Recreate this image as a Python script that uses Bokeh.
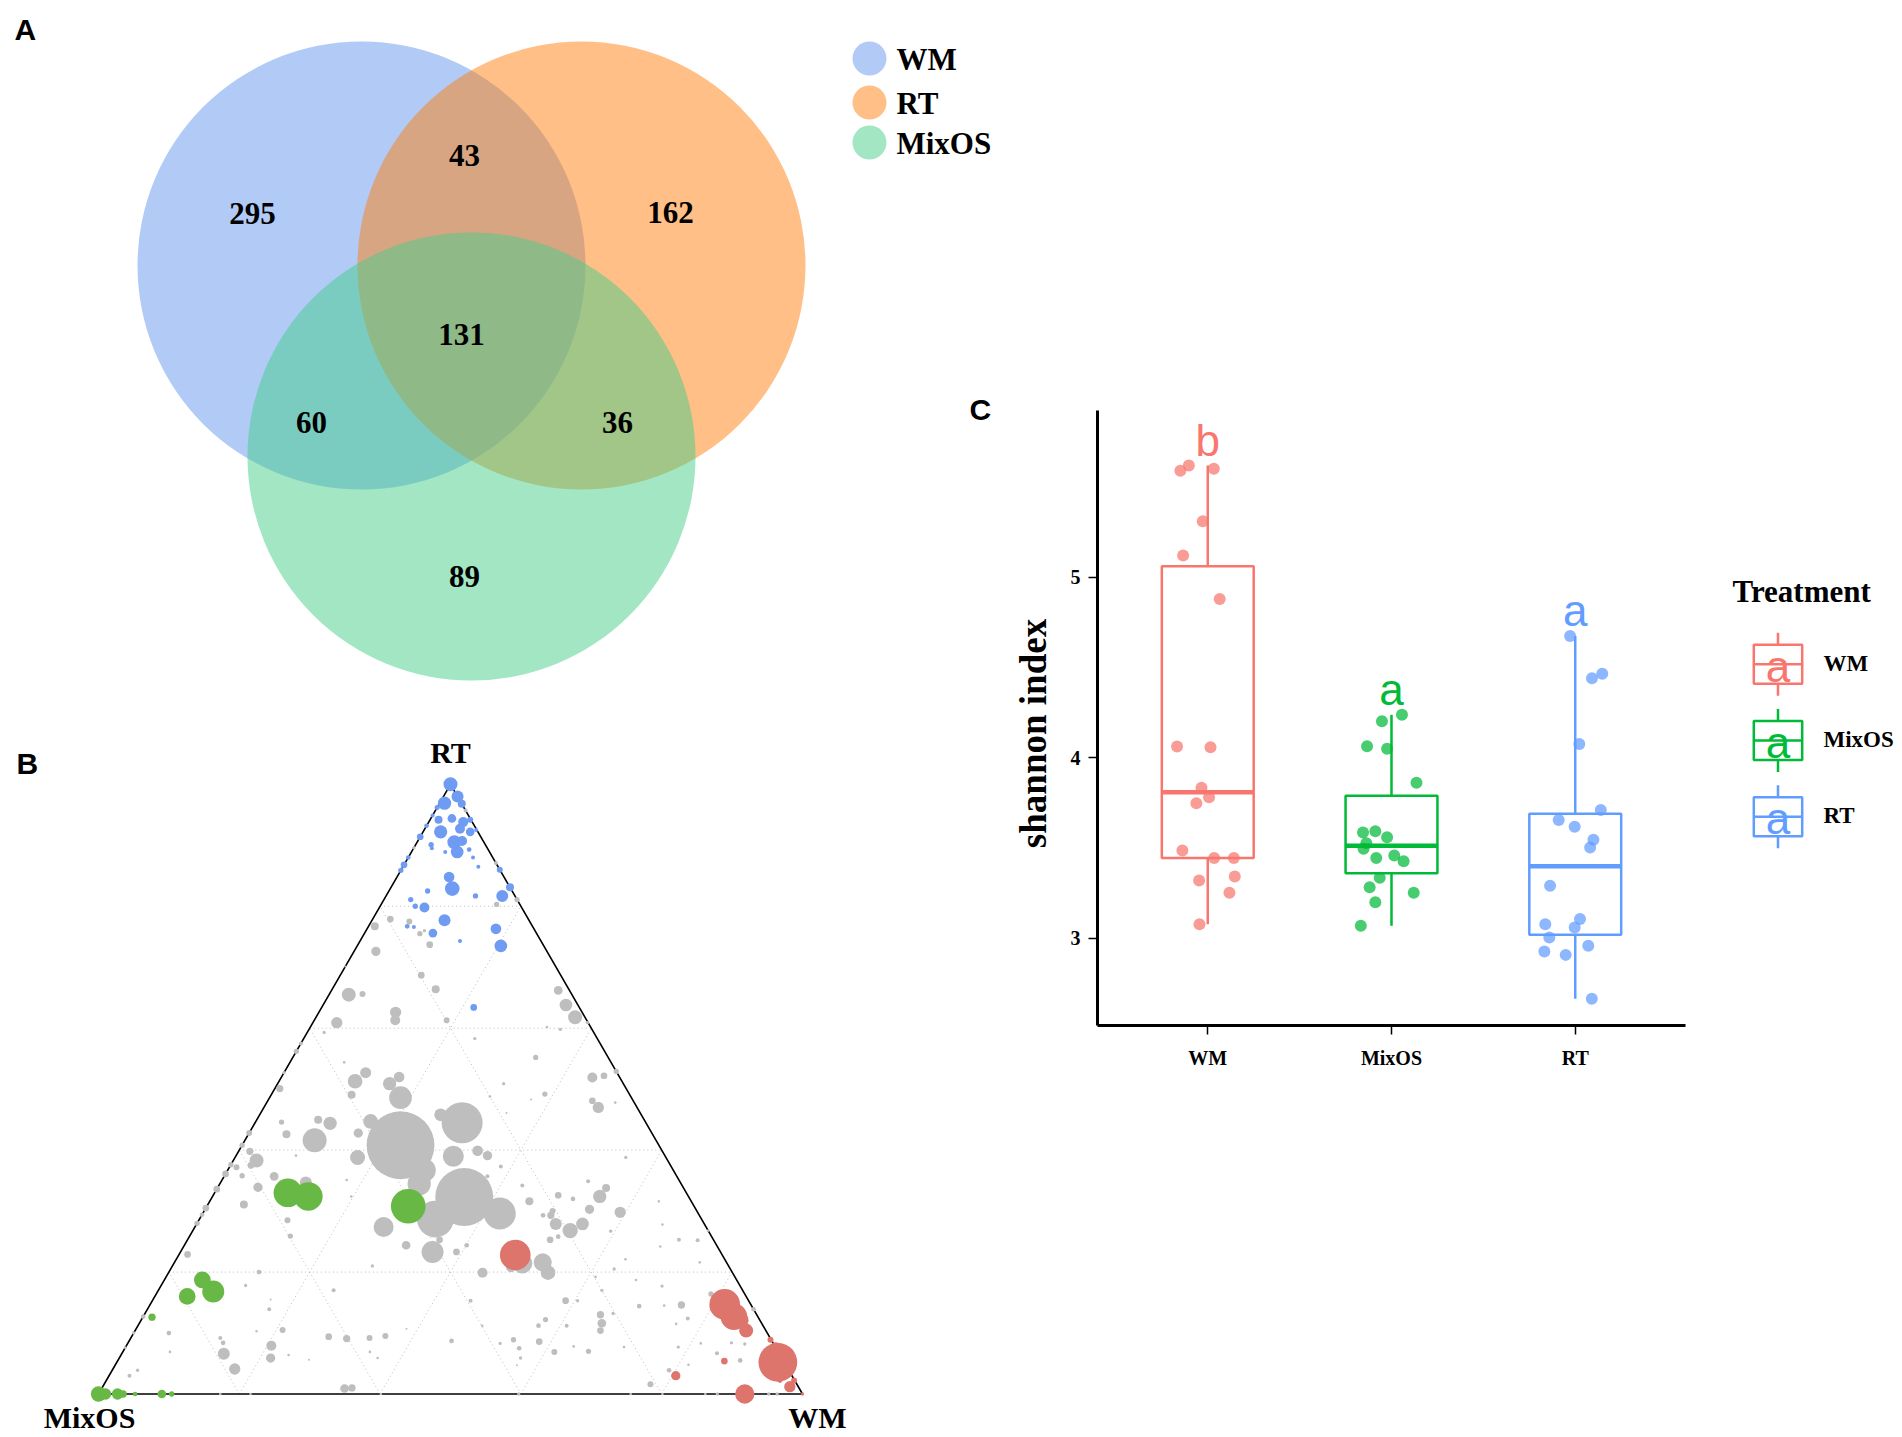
import math
from bokeh.plotting import figure
from bokeh.models import Range1d, FixedTicker, Spacer
from bokeh.layouts import row, column
from bokeh.core.properties import value
from bokeh.embed import file_html
from bokeh.resources import INLINE

# ------------------------------------------------------------------ data
# Panel A : Venn diagram (number of shared / unique taxa)
VENN_SETS = ["WM", "RT", "MixOS"]
VENN_REGIONS = ["WM only", "WM&RT", "RT only", "all", "WM&MixOS", "RT&MixOS", "MixOS only"]
VENN_COUNTS = [295, 43, 162, 131, 60, 36, 89]

# Panel B : ternary plot, composition in % (RT, WM; MixOS = remainder), abundance
BLUE_RT = [100, 98.0, 96.9, 96.8, 96.2, 94.2, 94.4, 93.8, 94.2, 94.9, 92.2, 92.7, 92.2, 93.2, 90.5,
           90.7, 88.9, 91.4, 90.1, 89.5, 88.9, 89.3, 92.5, 88.0, 88.0, 86.8, 85.9, 86.5, 86.0, 84.8,
           82.9, 83.1, 81.7, 82.5, 81.7, 81.1, 80.0, 79.8, 77.7, 76.7, 76.6, 75.6, 76.3, 73.5, 74.3, 63.4]
BLUE_WM = [0, 2.0, 0.7, 3.2, 0.0, 1.2, 3.0, 4.9, 5.7, 0.0, 2.5, 5.0, 6.7, 0.0, 5.3,
           6.3, 6.5, 0.0, 2.2, 2.6, 4.8, 8.0, 7.4, 9.2, 0.0, 0.0, 0.0, 10.7, 14.0, 7.4,
           8.8, 16.9, 16.5, 5.5, 12.7, 3.8, 5.0, 6.4, 10.3, 5.5, 6.5, 9.7, 18.3, 20.4, 14.2, 21.6]
BLUE_AB = [1.96, 1.44, 1.77, 0.64, 0.25, 0.64, 0.76, 1.0, 0.36, 0.16, 1.77, 1.0, 0.76, 0.22, 1.96,
           1.0, 1.61, 0.45, 0.28, 0.16, 0.16, 0.22, 0.16, 0.16, 0.22, 0.45, 0.28, 0.16, 0.36, 1.14,
           2.16, 0.64, 1.44, 0.28, 0.28, 0.28, 0.28, 1.0, 1.44, 0.22, 0.16, 0.76, 1.14, 1.61, 0.16, 0.45]

GREEN_RT = [30.8, 33.0, 32.4, 18.7, 16.8, 16.0, 12.6, 0, 0, 0, 0, 0, 0, 0]
GREEN_WM = [28.6, 10.4, 13.6, 5.4, 7.9, 4.6, 1.3, 0.0, 1.0, 2.7, 3.5, 5.2, 9.0, 10.4]
GREEN_AB = [12.0, 8.2, 8.2, 2.8, 4.84, 2.8, 0.53, 2.34, 1.28, 1.28, 0.53, 0.22, 0.76, 0.28]

RED_RT = [22.8, 14.7, 12.7, 14.2, 12.1, 10.4, 8.9, 5.2, 7.4, 1.2, 2.2, 2.2, 0, 0, 5.4, 3.0]
RED_WM = [47.8, 81.6, 83.9, 80.7, 85.1, 86.8, 91.0, 93.9, 92.5, 97.6, 97.7, 95.7, 100, 91.8, 86.2, 80.5]
RED_AB = [9.4, 9.4, 7.1, 1.77, 2.8, 1.96, 0.36, 15.0, 1.77, 1.28, 0.36, 0.22, 0.11, 3.72, 0.45, 0.86]

GREY_RT = [95.7, 89.6, 87.1, 81.1, 80.3, 76.7, 77.9, 77.5, 75.5, 76.0, 73.7, 72.6, 68.7, 66.4, 65.5,
           65.6, 62.6, 61.3, 60.9, 61.3, 66.2, 63.8, 61.8, 60.9, 60.2, 59.8, 59.3, 58.3, 55.2, 54.4,
           52.7, 57.5, 70.1, 56.2, 52.7, 50.1, 51.3, 49.1, 50.9, 52.0, 48.6, 44.7, 42.8, 44.4, 45.0,
           41.6, 44.6, 42.6, 42.8, 40.8, 39.8, 38.3, 37.5, 37.6, 37.2, 35.8, 36.1, 35.7, 33.9, 33.6,
           31.1, 30.5, 29.4, 28.0, 28.5, 25.9, 22.9, 39.1, 35.1, 32.4, 21.0, 20.0, 17.8, 17.0, 34.7,
           38.8, 27.4, 24.4, 23.3, 23.3, 45.8, 40.8, 32.3, 44.5, 29.6, 28.7, 36.7, 34.5, 39.0, 39.9,
           39.1, 25.3, 24.4, 35.7, 37.3, 34.2, 31.6, 32.6, 32.0, 34.9, 32.4, 33.8, 30.3, 27.9, 26.8,
           27.9, 29.3, 29.3, 30.0, 25.3, 25.8, 20.8, 21.4, 21.6, 19.9, 19.9, 15.3, 15.3, 15.3, 17.0,
           13.0, 11.6, 10.4, 12.2, 11.2, 11.2, 8.9, 8.6, 7.5, 5.9, 8.3, 11.2, 6.9, 7.8, 7.0,
           8.7, 9.1, 9.2, 9.5, 10.7, 6.9, 5.9, 0.9, 1.0, 4.7, 15.5, 13.9, 10.5, 10.3, 7.9,
           5.9, 6.4, 5.6, 9.4, 9.2, 8.4, 6.6, 4.1, 10.0, 6.9, 3.9, 3.0, 12.7, 10.0, 7.6,
           51.9, 52.2, 52.9, 50.9, 49.2, 48.3, 48.8, 46.1, 48.1, 47.0, 47.8, 38.8, 29.8, 31.6, 27.8,
           25.3, 25.2, 24.2, 26.7, 22.1, 20.5, 21.6, 26.8, 17.7, 18.7, 19.2, 16.4, 13.9, 5.5, 8.4,
           8.2, 6.7, 8.3, 14.6, 12.4, 14.5, 14.4, 11.5, 7.7, 4.8, 3.9, 1.6, 7.7, 13.2,
           0, 0, 0, 0, 0, 0, 0, 0, 0, 0]
GREY_WM = [4.3, 0.0, 12.9, 18.9, 16.4, 0.9, 2.5, 5.4, 7.9, 8.3, 10.2, 3.1, 11.5, 14.7, 2.8,
           4.7, 10.9, 11.5, 3.4, 18.8, 32.2, 34.5, 36.8, 39.0, 33.6, 35.7, 2.4, 24.3, 34.5, 7.7,
           11.6, 0.0, 0.0, 0.0, 0.0, 0.7, 10.8, 11.4, 15.9, 16.7, 18.6, 16.3, 15.5, 10.7, 8.7,
           9.9, 3.7, 5.4, 0.0, 0.0, 1.6, 3.3, 2.9, 0.0, 1.0, 2.5, 0.0, 7.1, 5.7, 0.0,
           5.1, 0.0, 0.0, 0.0, 12.6, 14.3, 1.2, 8.5, 17.7, 19.7, 28.4, 12.8, 12.0, 24.9, 12.1,
           17.4, 26.8, 31.5, 35.8, 39.2, 25.7, 22.5, 35.8, 29.4, 42.2, 33.5, 27.9, 28.3, 30.9, 33.9,
           35.7, 35.8, 40.1, 37.4, 38.5, 43.1, 45.4, 49.0, 51.4, 52.1, 55.0, 55.2, 54.6, 54.8, 53.6,
           51.0, 49.6, 48.5, 49.5, 51.5, 52.4, 48.2, 49.5, 52.3, 53.9, 44.6, 45.2, 58.7, 60.4, 63.0,
           64.8, 65.7, 66.1, 57.4, 56.9, 60.9, 54.5, 58.3, 56.0, 57.0, 52.9, 48.9, 61.3, 63.6, 66.1,
           45.8, 30.7, 33.9, 36.0, 38.4, 35.1, 36.7, 34.5, 35.5, 57.1, 16.7, 17.3, 20.9, 17.3, 20.6,
           21.5, 23.8, 27.1, 28.0, 12.7, 13.5, 14.5, 17.3, 5.0, 6.7, 3.6, 2.9, 0.0, 0.0, 0.0,
           44.2, 45.7, 47.1, 32.1, 38.8, 37.3, 31.2, 34.9, 46.1, 47.5, 49.5, 55.5, 59.2, 63.8, 66.2,
           69.8, 72.5, 67.7, 59.4, 63.8, 63.0, 74.6, 73.2, 71.2, 67.0, 61.0, 78.8, 86.1, 88.4, 85.7,
           87.7, 84.5, 81.4, 75.5, 77.5, 73.1, 69.6, 76.3, 78.5, 81.4, 79.1, 77.6, 70.8, 66.5,
           95.2, 96.4, 87.9, 86.2, 75.6, 80.1, 17.3, 40.1, 59.7, 21.6]
GREY_AB = [0.16, 0.11, 0.16, 0.28, 0.28, 0.64, 0.45, 0.36, 0.28, 0.11, 0.45, 0.86, 0.45, 0.64, 1.96,
           0.36, 1.28, 1.0, 1.28, 0.36, 0.76, 1.61, 1.96, 0.11, 0.07, 0.11, 0.11, 0.11, 0.28, 0.07,
           1.21, 0.16, 0.04, 0.28, 0.11, 0.53, 2.16, 0.64, 1.77, 1.14, 5.15, 2.16, 0.86, 1.77, 0.64,
           5.76, 0.28, 0.64, 0.36, 0.28, 0.53, 1.96, 0.45, 0.28, 0.36, 0.28, 0.45, 0.76, 0.86, 0.45,
           0.64, 0.45, 0.22, 0.28, 0.36, 0.28, 0.45, 0.07, 0.07, 0.07, 0.11, 0.22, 0.11, 0.16, 1.44,
           2.25, 4.0, 0.76, 4.84, 0.45, 1.61, 46.0, 33.6, 16.8, 10.2, 13.5, 5.43, 5.43, 4.41, 1.14,
           0.86, 0.45, 0.22, 0.16, 0.16, 0.16, 0.64, 0.45, 0.22, 0.16, 1.77, 0.64, 0.86, 1.61, 2.34,
           1.44, 0.53, 0.22, 0.36, 0.45, 0.22, 1.0, 4.0, 3.24, 2.16, 1.0, 0.16, 0.45, 0.11, 0.11,
           0.53, 0.76, 0.45, 0.28, 0.22, 0.16, 0.28, 0.45, 0.22, 0.11, 0.11, 0.07, 0.36, 0.07, 0.28,
           0.22, 0.53, 0.36, 0.36, 0.04, 0.07, 0.07, 0.76, 0.53, 0.04, 0.04, 0.16, 0.36, 0.07, 1.0,
           0.86, 0.07, 0.04, 0.45, 0.16, 0.22, 1.44, 1.28, 0.22, 0.07, 0.11, 0.16, 0.22, 0.11, 0.07,
           1.0, 0.45, 0.28, 0.11, 0.28, 0.04, 0.07, 0.04, 0.45, 1.28, 0.07, 0.11, 1.28, 0.07, 0.07,
           0.16, 0.16, 0.07, 0.11, 0.07, 0.11, 0.07, 0.07, 0.11, 0.07, 0.07, 0.28, 0.22, 0.22, 0.11,
           0.11, 0.16, 0.07, 0.53, 0.16, 0.07, 0.22, 0.07, 0.11, 0.07, 0.22, 0.36, 0.07, 0.11,
           0.11, 0.11, 0.11, 0.07, 0.07, 0.07, 0.07, 0.07, 0.11, 0.07]

# Panel C : shannon index per treatment
TREATMENTS = ["WM", "MixOS", "RT"]
WM_SHANNON = [5.59, 5.619, 5.60, 5.31, 5.12, 4.88, 4.063, 4.059, 3.834, 3.782, 3.749, 3.487,
              3.446, 3.446, 3.321, 3.343, 3.253, 3.078]
WM_JITTER = [-0.149, -0.103, 0.033, -0.027, -0.134, 0.065, -0.167, 0.015, -0.034, 0.007, -0.062,
             -0.138, 0.035, 0.142, -0.047, 0.147, 0.118, -0.045]
MIX_SHANNON = [4.238, 4.203, 4.064, 4.05, 3.862, 3.586, 3.594, 3.56, 3.527, 3.496, 3.446, 3.459,
               3.427, 3.336, 3.284, 3.253, 3.2, 3.07]
MIX_JITTER = [0.057, -0.052, -0.133, -0.024, 0.136, -0.155, -0.088, -0.024, -0.137, -0.152,
              -0.083, 0.015, 0.066, -0.064, -0.119, 0.121, -0.088, -0.167]
RT_SHANNON = [4.674, 4.441, 4.465, 4.077, 3.711, 3.656, 3.619, 3.547, 3.504, 3.292, 3.107, 3.079,
              3.06, 3.005, 2.928, 2.909, 2.959, 2.666]
RT_JITTER = [-0.028, 0.091, 0.147, 0.022, 0.139, -0.09, -0.003, 0.099, 0.081, -0.137, 0.026,
             -0.163, -0.003, -0.141, -0.168, -0.052, 0.071, 0.09]
BOX_LOWER = [3.078, 3.07, 2.666]
BOX_Q1 = [3.446, 3.361, 3.02]
BOX_MEDIAN = [3.81, 3.513, 3.40]
BOX_Q3 = [5.061, 3.79, 3.69]
BOX_UPPER = [5.619, 4.238, 4.674]
SIG_LETTERS = ["b", "a", "a"]
Y_TITLE = "shannon index"

# ------------------------------------------------------------------ styles
SERIF = value("Liberation Serif")
SANS = value("Liberation Sans")
VENN_COLORS = {"WM": "#6495ED", "RT": "#FF7F0E", "MixOS": "#46CD8A"}
TERN_COLORS = {"grey": "#BEBEBE", "blue": "#6F9BF2", "green": "#68B846", "red": "#DD756C"}
BOX_COLORS = ["#F8766D", "#00BA38", "#619CFF"]


def blank(width, height, xr, yr, **kw):
    p = figure(width=width, height=height, x_range=xr, y_range=yr, output_backend="svg",
               toolbar_location=None, x_axis_location=None, y_axis_location=None, **kw)
    p.grid.visible = False
    p.outline_line_color = None
    p.background_fill_color = "white"
    p.border_fill_color = "white"
    return p


# ------------------------------------------------------------------ panels A + B (page pixel space)
PAB_W, PAB_H = 1000, 1436
pab = blank(PAB_W, PAB_H, Range1d(0, PAB_W), Range1d(PAB_H, 0), min_border=0)

# --- Venn
venn_cx = {"WM": 361, "RT": 581, "MixOS": 471}
venn_cy = {"WM": 265, "RT": 265, "MixOS": 456}
for s in VENN_SETS:
    pab.circle(x=[venn_cx[s]], y=[venn_cy[s]], radius=224, fill_color=VENN_COLORS[s],
               fill_alpha=0.5, line_color=None)
region_x = [252, 464, 670, 461, 311, 617, 464]
region_y = [213, 155, 212, 334, 422, 422, 576]
pab.text(x=region_x, y=region_y, text=[str(c) for c in VENN_COUNTS], text_font=SERIF,
         text_font_style="bold", text_font_size="31px", text_align="center",
         text_baseline="middle", text_color="black")
leg_y = {"WM": 58, "RT": 102, "MixOS": 142}
for s in VENN_SETS:
    pab.circle(x=[869], y=[leg_y[s]], radius=17, fill_color=VENN_COLORS[s], fill_alpha=0.5,
               line_color=None)
    pab.text(x=[896], y=[leg_y[s] + 1], text=[s], text_font=SERIF, text_font_style="bold",
             text_font_size="31px", text_align="left", text_baseline="middle", text_color="black")

# --- panel letters
pab.text(x=[14, 16, 969], y=[29, 762.5, 408.5], text=["A", "B", "C"], text_font=SANS,
         text_font_style="bold", text_font_size="30px", text_align="left",
         text_baseline="middle", text_color="black")

# --- ternary, drawn on extra ranges (x: 0..1 across base, y: 0..sqrt(3)/2)
H = math.sqrt(3) / 2
T_PX = 704.0           # pixels per unit of the ternary base
T_X0, T_Y0 = 98.0, 1393.5  # page position of the MixOS corner
pab.extra_x_ranges = {"tx": Range1d(-T_X0 / T_PX, (PAB_W - T_X0) / T_PX)}
pab.extra_y_ranges = {"ty": Range1d(-(PAB_H - T_Y0) / T_PX, T_Y0 / T_PX)}


def tern(rt, wm):
    return (wm + rt / 2.0) / 100.0, rt / 100.0 * H


gx, gy = [], []
for f in (20, 40, 60, 80):
    for a, b in (((f, 0), (f, 100 - f)), ((0, f), (100 - f, f)), ((0, 100 - f), (100 - f, 0))):
        x0, y0 = tern(*a)
        x1, y1 = tern(*b)
        gx.append([x0, x1])
        gy.append([y0, y1])
pab.multi_line(xs=gx, ys=gy, line_color="#BDBDBD", line_width=1, line_dash="1 3",
               x_range_name="tx", y_range_name="ty")
tri = [tern(0, 0), tern(0, 100), tern(100, 0), tern(0, 0)]
pab.line(x=[t[0] for t in tri], y=[t[1] for t in tri], line_color="black", line_width=1.6,
         x_range_name="tx", y_range_name="ty")


def draw_group(rts, wms, abs_, color):
    order = sorted(range(len(abs_)), key=lambda i: -abs_[i])
    xs, ys, ss = [], [], []
    for i in order:
        x, y = tern(rts[i], wms[i])
        xs.append(x)
        ys.append(y)
        ss.append(10.0 * math.sqrt(abs_[i]))
    pab.scatter(x=xs, y=ys, size=ss, fill_color=color, line_color=None,
                x_range_name="tx", y_range_name="ty")


draw_group(GREY_RT, GREY_WM, GREY_AB, TERN_COLORS["grey"])
draw_group(BLUE_RT, BLUE_WM, BLUE_AB, TERN_COLORS["blue"])
draw_group(GREEN_RT, GREEN_WM, GREEN_AB, TERN_COLORS["green"])
draw_group(RED_RT, RED_WM, RED_AB, TERN_COLORS["red"])

pab.text(x=[450, 89, 817], y=[752, 1417, 1417], text=["RT", "MixOS", "WM"], text_font=SERIF,
         text_font_style="bold", text_font_size="30px", text_align="center",
         text_baseline="middle", text_color="black")

# ------------------------------------------------------------------ panel C
C_BORDERS = dict(min_border_top=10, min_border_bottom=65)

# y-axis title strip (page pixel space), frames aligned with panel C
pyt = blank(53, 690, Range1d(1000, 1053), Range1d(1025, 410), min_border_left=0,
            min_border_right=0, **C_BORDERS)
pyt.text(x=[1033], y=[733], text=[Y_TITLE], angle=math.pi / 2, text_font=SERIF,
         text_font_style="bold", text_font_size="37px", text_align="center",
         text_baseline="middle", text_color="black")

pc = figure(width=647, height=690, x_range=Range1d(0.4, 3.6), y_range=Range1d(2.518, 5.923),
            output_backend="svg", toolbar_location=None, min_border_left=44,
            min_border_right=15, **C_BORDERS)
pc.grid.visible = False
pc.outline_line_color = None
for ax in (pc.xaxis, pc.yaxis):
    ax.axis_line_width = 3
    ax.axis_line_color = "black"
    ax.major_tick_line_width = 1.5
    ax.major_tick_line_color = "black"
    ax.major_tick_out = 9
    ax.major_tick_in = 0
    ax.minor_tick_out = 0
    ax.minor_tick_in = 0
    ax.major_label_text_font = "Liberation Serif"
    ax.major_label_text_font_style = "bold"
    ax.major_label_text_font_size = "20px"
    ax.major_label_text_color = "black"
pc.xaxis.ticker = FixedTicker(ticks=[1, 2, 3])
pc.xaxis.major_label_overrides = {1: "WM", 2: "MixOS", 3: "RT"}
pc.xaxis.major_label_standoff = 12
pc.yaxis.ticker = FixedTicker(ticks=[3, 4, 5])
pc.yaxis.major_label_standoff = 8

cats = [1, 2, 3]
pc.segment(x0=cats, y0=BOX_Q3, x1=cats, y1=BOX_UPPER, line_color=BOX_COLORS, line_width=2.5)
pc.segment(x0=cats, y0=BOX_LOWER, x1=cats, y1=BOX_Q1, line_color=BOX_COLORS, line_width=2.5)
pc.vbar(x=cats, width=0.5, bottom=BOX_Q1, top=BOX_Q3, fill_color="white",
        line_color=BOX_COLORS, line_width=2.5)
pc.segment(x0=[c - 0.25 for c in cats], y0=BOX_MEDIAN, x1=[c + 0.25 for c in cats],
           y1=BOX_MEDIAN, line_color=BOX_COLORS, line_width=4.5)
for c, vals, jit, col in zip(cats, (WM_SHANNON, MIX_SHANNON, RT_SHANNON),
                             (WM_JITTER, MIX_JITTER, RT_JITTER), BOX_COLORS):
    pc.scatter(x=[c + j for j in jit], y=vals, size=12, fill_color=col, fill_alpha=0.72,
               line_color=None)
LETTER_GAP = 0.139   # letter centre above the upper whisker (data units)
pc.text(x=cats, y=[u + LETTER_GAP for u in BOX_UPPER], text=SIG_LETTERS,
        text_color=BOX_COLORS, text_font=SANS, text_font_size="44px", text_align="center",
        text_baseline="middle")

# ------------------------------------------------------------------ legend for panel C
pl = blank(200, 690, Range1d(1700, 1900), Range1d(1025, 410), min_border_left=0,
           min_border_right=0, **C_BORDERS)
pl.text(x=[1732], y=[591], text=["Treatment"], text_font=SERIF, text_font_style="bold",
        text_font_size="31px", text_align="left", text_baseline="middle", text_color="black")
key_y = [663.8, 740.0, 816.3]
kx = 1777.5
pl.segment(x0=[kx] * 3, y0=[y - 31.5 for y in key_y], x1=[kx] * 3, y1=[y + 31.5 for y in key_y],
           line_color=BOX_COLORS, line_width=2.5)
pl.rect(x=[kx] * 3, y=key_y, width=48.4, height=39, fill_color="white", line_color=BOX_COLORS,
        line_width=2.5)
pl.segment(x0=[kx - 24.2] * 3, y0=key_y, x1=[kx + 24.2] * 3, y1=key_y, line_color=BOX_COLORS,
           line_width=2.5)
pl.text(x=[kx] * 3, y=[y + 2 for y in key_y], text=["a", "a", "a"], text_color=BOX_COLORS,
        text_font=SANS, text_font_size="44px", text_align="center", text_baseline="middle")
pl.text(x=[1823] * 3, y=[y - 1 for y in key_y], text=TREATMENTS, text_font=SERIF,
        text_font_style="bold", text_font_size="23px", text_align="left",
        text_baseline="middle", text_color="black")

layout = row(pab, column(Spacer(width=900, height=400), row(pyt, pc, pl)))
open("out.html", "w").write(file_html(layout, INLINE))
